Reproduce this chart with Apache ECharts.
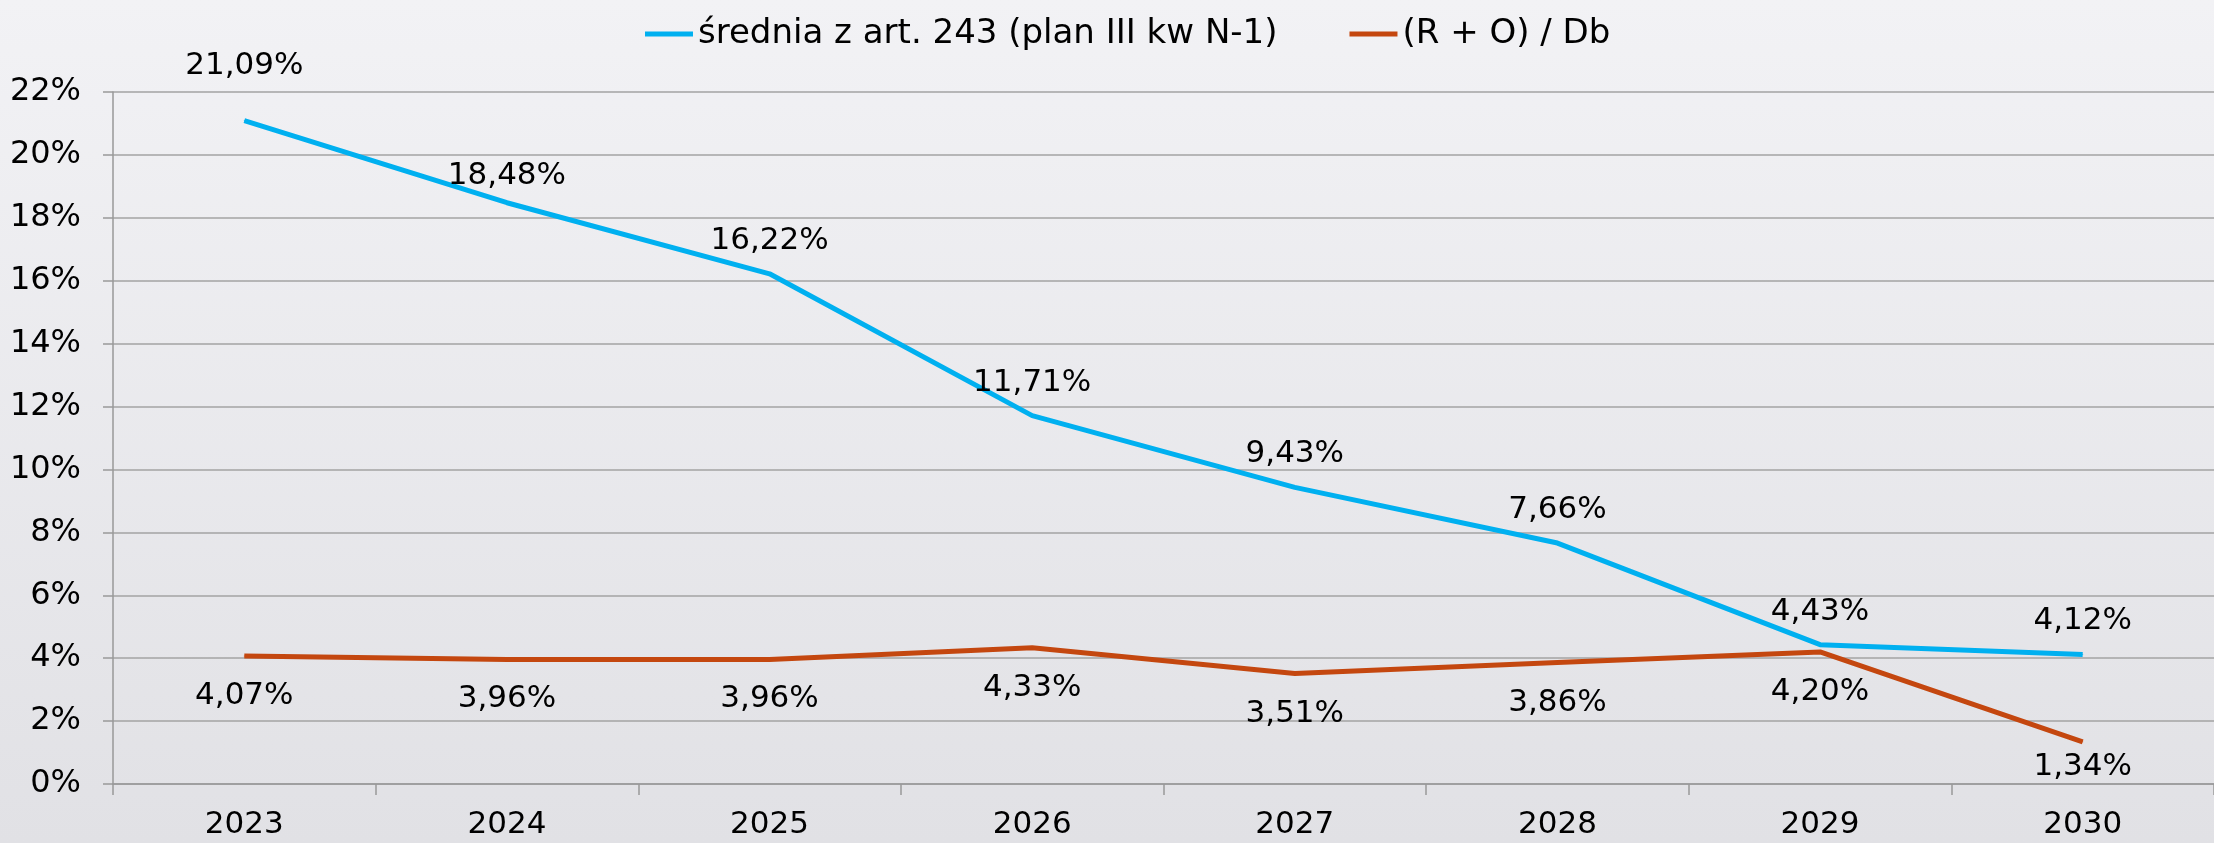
<!DOCTYPE html>
<html>
<head>
<meta charset="utf-8">
<script src="https://cdn.jsdelivr.net/npm/echarts@6/dist/echarts.min.js"></script>
<style>
  html, body { margin: 0; padding: 0; }
  #chart { width: 2214px; height: 843px; }
</style>
</head>
<body>
<div id="chart"></div>
<script>
// dane
var years = ["2023", "2024", "2025", "2026", "2027", "2028", "2029", "2030"];
var srednia = [21.09, 18.48, 16.22, 11.71, 9.43, 7.66, 4.43, 4.12];
var roDb = [4.07, 3.96, 3.96, 4.33, 3.51, 3.86, 4.20, 1.34];
var seriesNames = ["średnia z art. 243 (plan III kw N-1)", "(R + O) / Db"];
var yTicks = { min: 0, max: 22, step: 2 };

var fontFam = "DejaVu Sans";
var blue = "#00b0f0";
var red = "#c4470f";

// etykiety przesunięte recznie (jak w oryginale)
var blueShift = { 0: -22, 1: 6 };
var redShift = { 7: -15 };

function fmt(v) {
  return v.toFixed(2).replace(".", ",") + "%";
}

function withShift(values, shift) {
  return values.map(function(v, i) {
    var item = { value: v };
    if (shift[i] !== undefined) {
      item.label = { offset: [0, shift[i]] };
    }
    return item;
  });
}

var chart = echarts.init(document.getElementById("chart"));
chart.setOption({
  backgroundColor: {
    type: "linear", x: 0, y: 0, x2: 0, y2: 1,
    colorStops: [
      { offset: 0, color: "#f2f2f5" },
      { offset: 1, color: "#e1e1e5" }
    ]
  },
  textStyle: { fontFamily: fontFam },
  legend: {
    top: 12,
    left: 640,
    itemWidth: 48,
    itemHeight: 5,
    itemGap: 72,
    icon: "rect",
    textStyle: { fontSize: 34, color: "#000", fontFamily: fontFam },
    data: seriesNames
  },
  grid: {
    left: 113,
    top: 92,
    right: -7,
    bottom: 59
  },
  xAxis: {
    type: "category",
    data: years,
    boundaryGap: true,
    axisLine: { show: true, lineStyle: { color: "#999", width: 1.5 } },
    axisTick: { show: true, length: 11, lineStyle: { color: "#999", width: 1.5 } },
    axisLabel: { fontSize: 31, color: "#000", margin: 25 },
    splitLine: { show: false }
  },
  yAxis: {
    type: "value",
    min: yTicks.min,
    max: yTicks.max,
    interval: yTicks.step,
    axisLine: { show: true, lineStyle: { color: "#999", width: 1.5 } },
    axisTick: { show: true, length: 10, lineStyle: { color: "#999", width: 1.5 } },
    axisLabel: { fontSize: 32, color: "#000", margin: 32, formatter: "{value}%" },
    splitLine: { show: true, lineStyle: { color: "#a3a3a3", width: 1.5 } }
  },
  series: [
    {
      name: seriesNames[0],
      type: "line",
      symbol: "circle",
      symbolSize: 1,
      itemStyle: { color: blue },
      lineStyle: { color: blue, width: 5 },
      label: {
        show: true,
        position: "top",
        distance: 17,
        fontSize: 31,
        color: "#000",
        formatter: function(p) { return fmt(p.value); }
      },
      data: withShift(srednia, blueShift)
    },
    {
      name: seriesNames[1],
      type: "line",
      symbol: "circle",
      symbolSize: 1,
      itemStyle: { color: red },
      lineStyle: { color: red, width: 5 },
      label: {
        show: true,
        position: "bottom",
        distance: 24,
        fontSize: 31,
        color: "#000",
        formatter: function(p) { return fmt(p.value); }
      },
      data: withShift(roDb, redShift)
    }
  ]
});
</script>
</body>
</html>
